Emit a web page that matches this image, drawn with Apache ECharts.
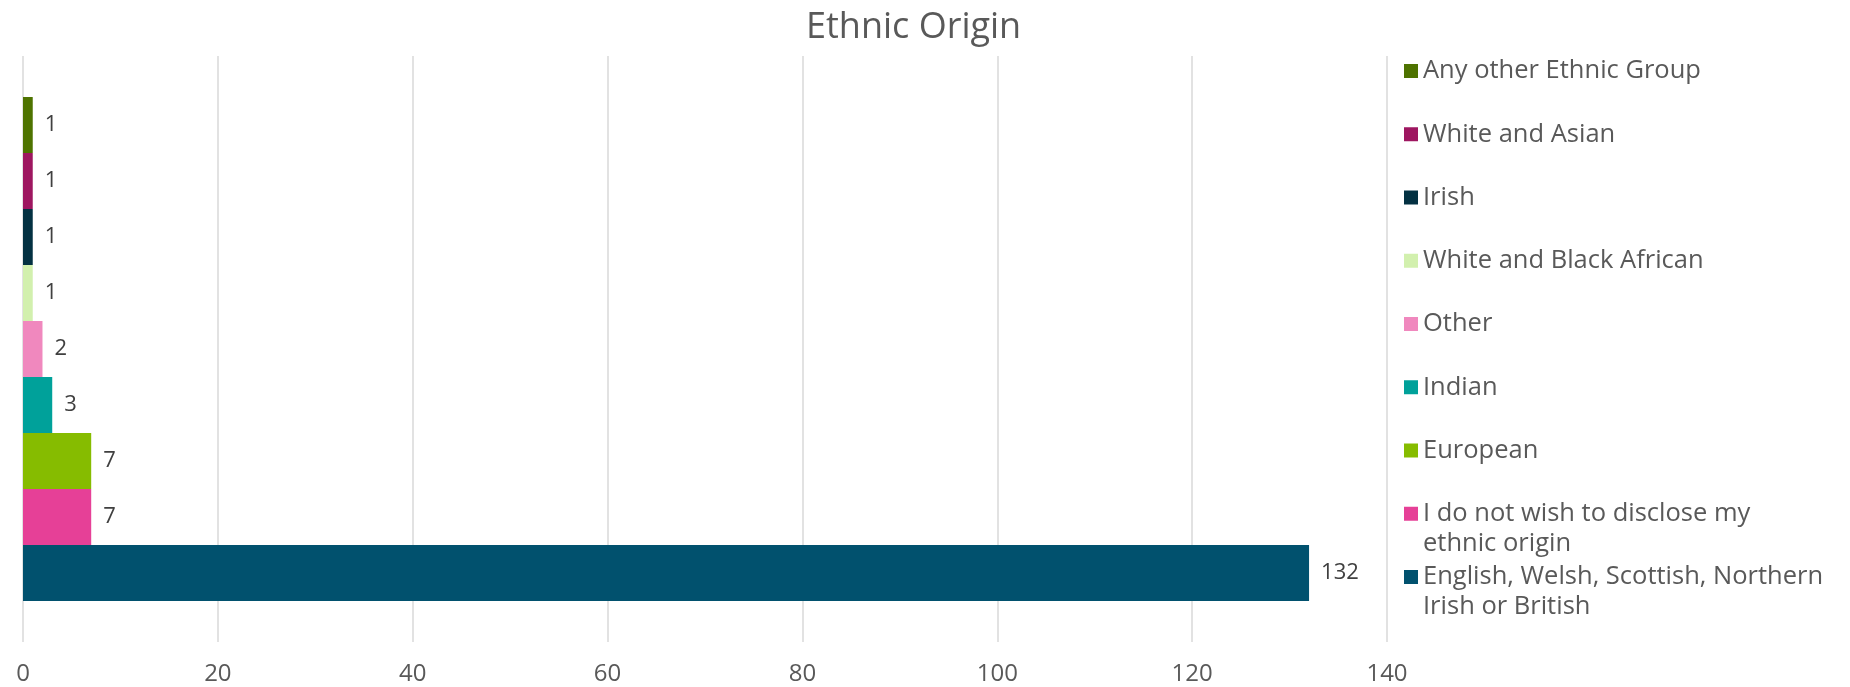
<!DOCTYPE html>
<html><head><meta charset="utf-8">
<script src="https://cdn.jsdelivr.net/npm/echarts@6/dist/echarts.min.js"></script>
<style>html,body{margin:0;padding:0;background:#fff}#c{width:1850px;height:687px}</style>
</head><body><div id="c"></div>
<script>
const chartTitle = 'Ethnic Origin';
const categories = ['Any other Ethnic Group', 'White and Asian', 'Irish', 'White and Black African', 'Other', 'Indian', 'European', 'I do not wish to disclose my ethnic origin', 'English, Welsh, Scottish, Northern Irish or British'];
const legendLabels = ['Any other Ethnic Group', 'White and Asian', 'Irish', 'White and Black African', 'Other', 'Indian', 'European', 'I do not wish to disclose my\nethnic origin', 'English, Welsh, Scottish, Northern\nIrish or British'];
const values = [1, 1, 1, 1, 2, 3, 7, 7, 132];
const colors = ['#4E7300', '#9E1660', '#033142', '#D2F0AE', '#F088BE', '#00A19A', '#86BC00', '#E64097', '#01516E'];
const xTickLabels = [0, 20, 40, 60, 80, 100, 120, 140];

const FONT = '"Open Sans", "Liberation Sans", sans-serif';
const chart = echarts.init(document.getElementById('c'), null, {renderer: 'canvas'});

const series = categories.map((name, i) => ({
  type: 'bar',
  name: name,
  data: [values[i]],
  itemStyle: {color: colors[i]},
  barGap: '0%',
  barCategoryGap: '14%',
  label: {show: true, position: 'right', distance: 12, color: '#404040', fontSize: 22, fontFamily: FONT}
}));

const legends = categories.map((name, i) => {
  const lines = legendLabels[i].split('\n').length;
  const cy = 71 + i * 63.25;
  return {
    data: [name],
    orient: 'vertical',
    left: 1404,
    top: cy - (lines === 1 ? 15 : 45),
    itemWidth: 14,
    itemHeight: 14,
    padding: 0,
    icon: 'rect',
    selectedMode: false,
    // multi-line entries: a blank leading line keeps the marker beside the first text line
    formatter: () => (lines > 1 ? ' \n' : '') + legendLabels[i],
    textStyle: {fontSize: 25.5, color: '#595959', fontFamily: FONT, lineHeight: 30}
  };
});

chart.setOption({
  animation: false,
  backgroundColor: '#ffffff',
  title: {text: chartTitle, left: 806, top: 10, padding: 0, textStyle: {fontSize: 36, fontWeight: 'normal', color: '#595959', fontFamily: FONT}},
  legend: legends,
  grid: {left: 23, right: 463, top: 56, bottom: 45},
  xAxis: {
    type: 'value',
    min: xTickLabels[0],
    max: xTickLabels[xTickLabels.length - 1],
    interval: xTickLabels[1] - xTickLabels[0],
    axisLine: {show: false},
    axisTick: {show: false},
    splitLine: {show: true, lineStyle: {color: '#D9D9D9', width: 1.5}},
    axisLabel: {margin: 20, fontSize: 24, color: '#595959', fontFamily: FONT}
  },
  yAxis: {
    type: 'category',
    data: [''],
    axisLine: {show: false},
    axisTick: {show: false},
    axisLabel: {show: false}
  },
  series: series
});
</script></body></html>
